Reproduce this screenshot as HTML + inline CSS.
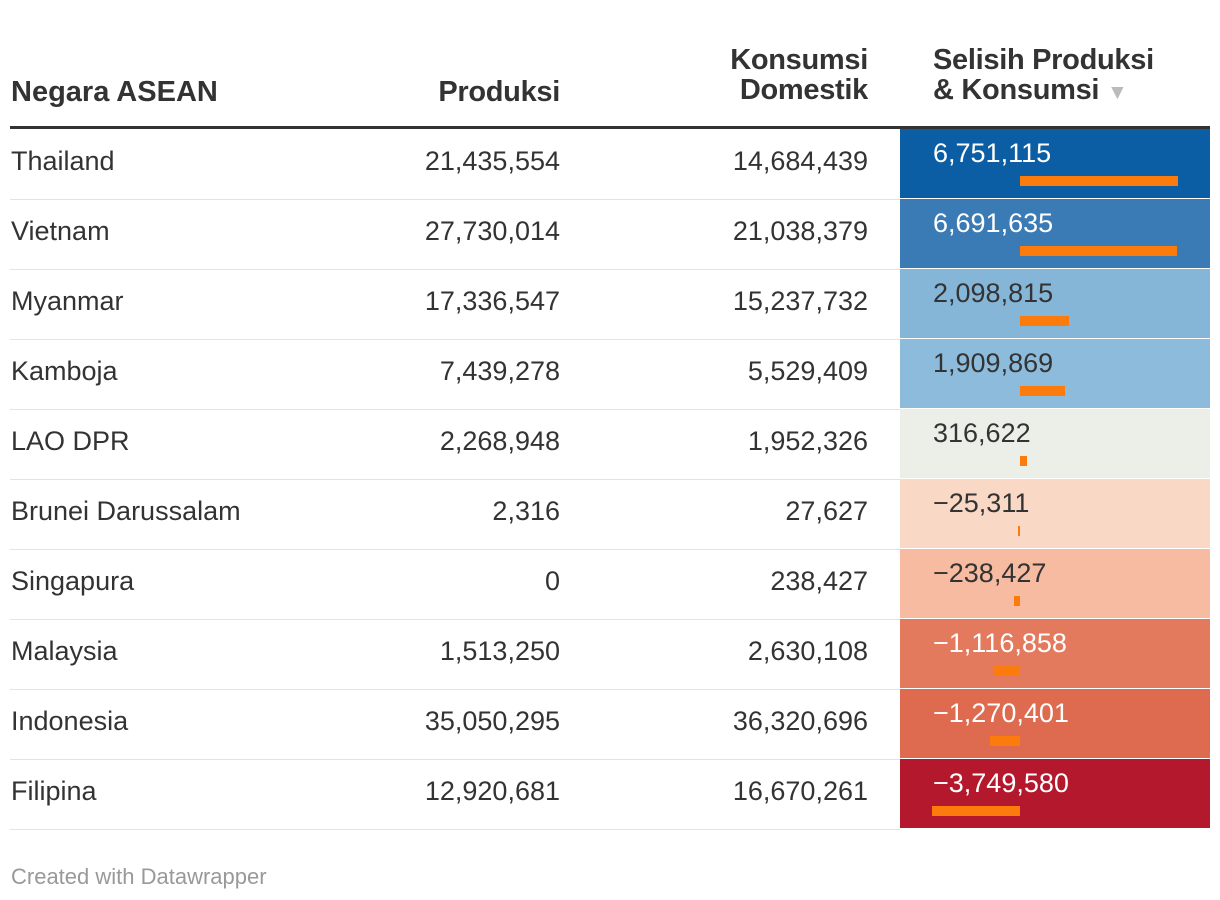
<!DOCTYPE html>
<html><head><meta charset="utf-8"><style>
body{margin:0;width:1220px;height:900px;background:#fff;font-family:"Liberation Sans",Arial,sans-serif;color:#333;position:relative;overflow:hidden}
.a{position:absolute;white-space:nowrap}
.h{font-weight:bold;font-size:29px;line-height:30px;letter-spacing:-0.3px;color:#333}
.t{font-size:27px;line-height:30px;color:#333}
</style></head><body>
<div class="a h" style="left:11px;top:77px;letter-spacing:0">Negara ASEAN</div>
<div class="a h" style="right:660px;top:77px;text-align:right">Produksi</div>
<div class="a h" style="right:352px;top:45px;text-align:right">Konsumsi<br>Domestik</div>
<div class="a h" style="left:933px;top:45px">Selisih Produksi<br>&amp; Konsumsi <span style="color:#bbb;font-size:21px">&#9660;</span></div>
<div class="a" style="left:10px;top:126px;width:1200px;height:3px;background:#333"></div>
<div id="rows"></div>
<div class="a" style="left:11px;top:864px;font-size:22px;color:#999">Created with Datawrapper</div>
<script>
const countries=["Thailand","Vietnam","Myanmar","Kamboja","LAO DPR","Brunei Darussalam","Singapura","Malaysia","Indonesia","Filipina"];
const produksi=[21435554,27730014,17336547,7439278,2268948,2316,0,1513250,35050295,12920681];
const konsumsi=[14684439,21038379,15237732,5529409,1952326,27627,238427,2630108,36320696,16670261];
const selisih=[6751115,6691635,2098815,1909869,316622,-25311,-238427,-1116858,-1270401,-3749580];
const fills=["#0b5ea3","#3a7bb5","#86b6d7","#8dbbdb","#eceee8","#f9d8c5","#f6bba1","#e37a5e","#de6a50","#b3182c"];
const root=document.getElementById('rows');
const fmt=v=>(v<0?'\u2212':'')+Math.abs(v).toLocaleString('en-US');
const zeroX=1020, pxPerUnit=158/6751115, top0=129, rowH=70;
function add(parent,css,txt){const d=document.createElement('div');d.className='a';d.style.cssText=css;if(txt!==undefined)d.textContent=txt;parent.appendChild(d);return d;}
countries.forEach((c,i)=>{
  const y=top0+i*rowH;
  const line=add(root,`left:10px;top:${y+rowH}px;width:890px;height:1px;background:#e3e3e3`);
  
  
  const n=add(root,`left:11px;top:${y+17}px`,c);n.classList.add('t');
  
  
  const p=add(root,`right:660px;top:${y+17}px`,fmt(produksi[i]));p.classList.add('t');
  
  
  const k=add(root,`right:352px;top:${y+17}px`,fmt(konsumsi[i]));k.classList.add('t');
  
  
  const cell=add(root,`left:900px;top:${y}px;width:310px;height:${rowH-1}px;background:${fills[i]}`);
  
  
  const dark=[0,1,7,8,9].includes(i);
  const v=add(root,`left:933px;top:${y+9}px;color:${dark?'#fff':'#333'}`,fmt(selisih[i]));v.classList.add('t');
  
  
  const w=Math.max(2,Math.abs(selisih[i])*pxPerUnit);
  const x=selisih[i]>=0?zeroX:zeroX-w;
  const b=add(root,`left:${x}px;top:${y+47}px;width:${w}px;height:10px;background:#fb7b0d`);
  
  
});
</script>
</body></html>
